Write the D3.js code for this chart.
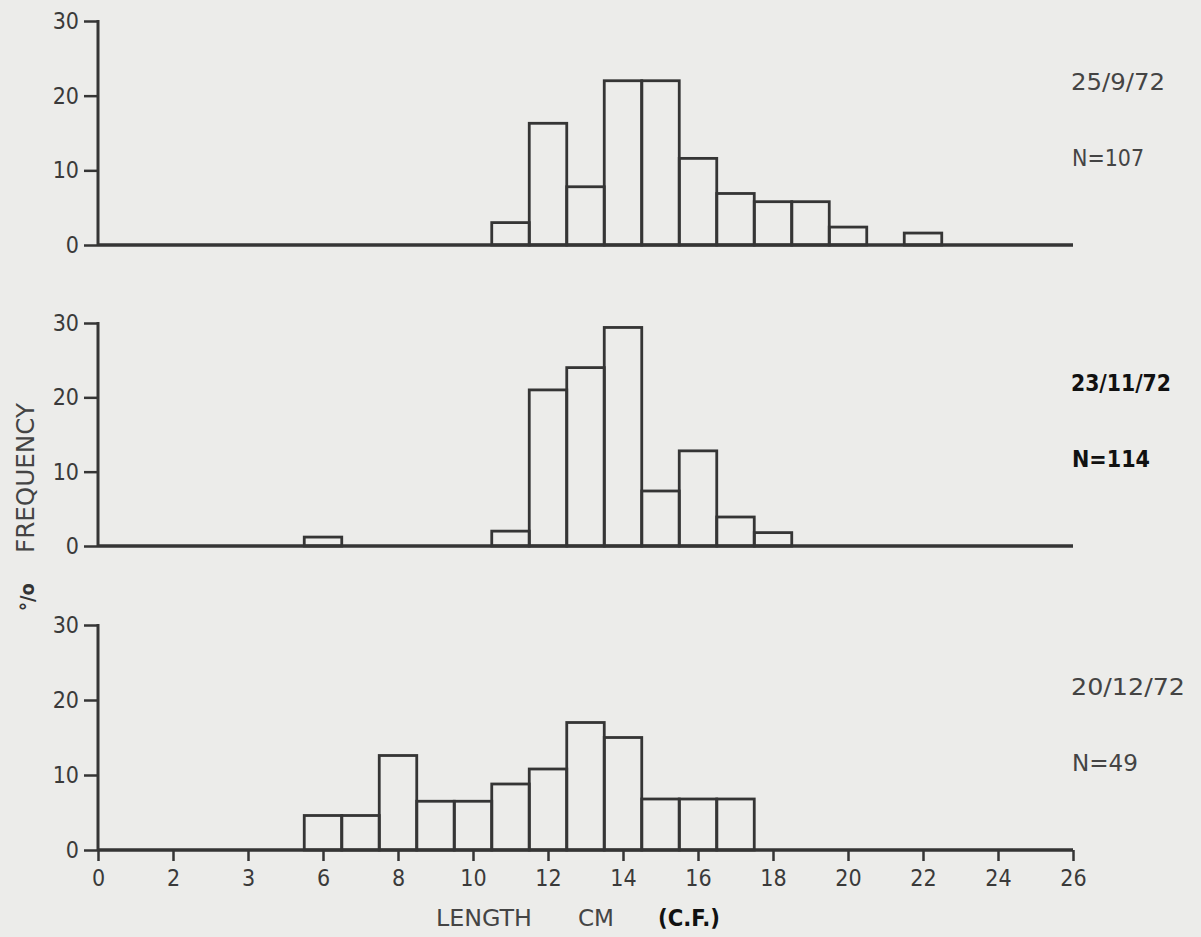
<!DOCTYPE html>
<html>
<head>
<meta charset="utf-8">
<script src="https://cdn.jsdelivr.net/npm/d3@7"></script>
<style>
  body { margin: 0; background: #ececea; }
  svg { display: block; }
  text { font-family: "DejaVu Sans", sans-serif; font-stretch: condensed; }
</style>
</head>
<body>
<div id="chart"></div>
<script>
// length classes (cm), one bar per class, centred on the value
var lengths = [6, 7, 8, 9, 10, 11, 12, 13, 14, 15, 16, 17, 18, 19, 20, 21, 22]

// % frequency per length class
var sep72 = [0, 0, 0, 0, 0, 3, 16.3, 7.8, 22, 22, 11.6, 6.9, 5.8, 5.8, 2.4, 0, 1.6]
var nov72 = [1.2, 0, 0, 0, 0, 2, 21, 24, 29.4, 7.4, 12.8, 3.9, 1.8, 0, 0, 0, 0]
var dec72 = [4.6, 4.6, 12.6, 6.5, 6.5, 8.8, 10.8, 17, 15, 6.8, 6.8, 6.8, 0, 0, 0, 0, 0]

var panelDates = ["25/9/72", "23/11/72", "20/12/72"]
var panelN = ["N=107", "N=114", "N=49"]
var yTicks = [0, 10, 20, 30]
var xTicks = [0, 2, 4, 6, 8, 10, 12, 14, 16, 18, 20, 22, 24, 26]
var xTickLabels = ["0", "2", "3", "6", "8", "10", "12", "14", "16", "18", "20", "22", "24", "26"]

var width = 1201
var height = 937
var ink = "#353535"

var svg = d3.select("#chart").append("svg")
  .attr("width", width)
  .attr("height", height)

svg.append("rect").attr("width", width).attr("height", height).attr("fill", "#ececea")

var x = d3.scaleLinear().domain([0, 26]).range([98, 1073])

var panels = [
  { values: sep72, top: 21, base: 245, bold: false, dateW: 94, nW: 72 },
  { values: nov72, top: 323, base: 546, bold: true, dateW: 100, nW: 78 },
  { values: dec72, top: 625, base: 850, bold: false, dateW: 114, nW: 66 }
]

panels.forEach(function (p, i) {
  var y = d3.scaleLinear().domain([0, 30]).range([p.base, p.top])
  var g = svg.append("g")

  // y axis
  var ax = g.append("g")
    .attr("transform", "translate(" + x(0) + ",0)")
    .call(d3.axisLeft(y).tickValues(yTicks).tickSize(14).tickPadding(5))
  ax.select(".domain").remove()
  ax.selectAll(".tick line").attr("stroke", ink).attr("stroke-width", 2.5)
  ax.selectAll(".tick text")
    .attr("fill", "#3a3a3a")
    .style("font-size", "23px")
    .style("font-family", "DejaVu Sans")
  g.append("line")
    .attr("x1", x(0)).attr("x2", x(0))
    .attr("y1", y(30) - 1).attr("y2", y(0) + 1)
    .attr("stroke", ink).attr("stroke-width", 3)

  // bars
  var data = lengths.map(function (l, j) { return { len: l, v: p.values[j] } })
    .filter(function (d) { return d.v > 0 })
  g.selectAll("rect.bar")
    .data(data)
    .enter().append("rect")
    .attr("class", "bar")
    .attr("x", function (d) { return x(d.len - 0.5) })
    .attr("width", function (d) { return x(d.len + 0.5) - x(d.len - 0.5) })
    .attr("y", function (d) { return y(d.v) })
    .attr("height", function (d) { return y(0) - y(d.v) })
    .attr("fill", "none")
    .attr("stroke", ink)
    .attr("stroke-width", 2.8)

  // baseline
  g.append("line")
    .attr("x1", x(0)).attr("x2", x(26))
    .attr("y1", y(0)).attr("y2", y(0))
    .attr("stroke", ink).attr("stroke-width", 3.5)

  // date and N labels
  var col = p.bold ? "#111" : "#444"
  g.append("text")
    .attr("x", 1071).attr("y", y(0) - 155)
    .attr("fill", col)
    .attr("textLength", p.dateW).attr("lengthAdjust", "spacingAndGlyphs")
    .style("font-size", "23px")
    .style("font-weight", p.bold ? "bold" : "normal")
    .text(panelDates[i])
  g.append("text")
    .attr("x", 1072).attr("y", y(0) - 79)
    .attr("fill", col)
    .attr("textLength", p.nW).attr("lengthAdjust", "spacingAndGlyphs")
    .style("font-size", "23px")
    .style("font-weight", p.bold ? "bold" : "normal")
    .text(panelN[i])

  // x axis on the last panel only
  if (i == 2) {
    var xa = g.append("g")
      .attr("transform", "translate(0," + y(0) + ")")
      .call(d3.axisBottom(x).tickValues(xTicks).tickSize(11).tickPadding(9)
        .tickFormat(function (d, k) { return xTickLabels[k] }))
    xa.select(".domain").remove()
    xa.selectAll(".tick line").attr("stroke", ink).attr("stroke-width", 2.5)
    xa.selectAll(".tick text")
      .attr("fill", "#3a3a3a")
      .style("font-size", "23px")
      .style("font-family", "DejaVu Sans")
  }
})

// axis titles
svg.append("text")
  .attr("transform", "translate(34,478)rotate(-90)")
  .attr("text-anchor", "middle")
  .attr("fill", "#444")
  .attr("textLength", 150).attr("lengthAdjust", "spacingAndGlyphs")
  .style("font-size", "25px")
  .text("FREQUENCY")
svg.append("text")
  .attr("transform", "translate(34,597)rotate(-90)")
  .attr("text-anchor", "middle")
  .attr("fill", "#333")
  .style("font-size", "20px")
  .style("font-weight", "bold")
  .text("°/o")

svg.append("text").attr("x", 436).attr("y", 926).attr("fill", "#444")
  .attr("textLength", 96).attr("lengthAdjust", "spacingAndGlyphs")
  .style("font-size", "23px").text("LENGTH")
svg.append("text").attr("x", 578).attr("y", 926).attr("fill", "#444")
  .attr("textLength", 36).attr("lengthAdjust", "spacingAndGlyphs")
  .style("font-size", "23px").text("CM")
svg.append("text").attr("x", 658).attr("y", 926).attr("fill", "#111")
  .attr("textLength", 62).attr("lengthAdjust", "spacingAndGlyphs")
  .style("font-size", "23px").style("font-weight", "bold").text("(C.F.)")
</script>
</body>
</html>
